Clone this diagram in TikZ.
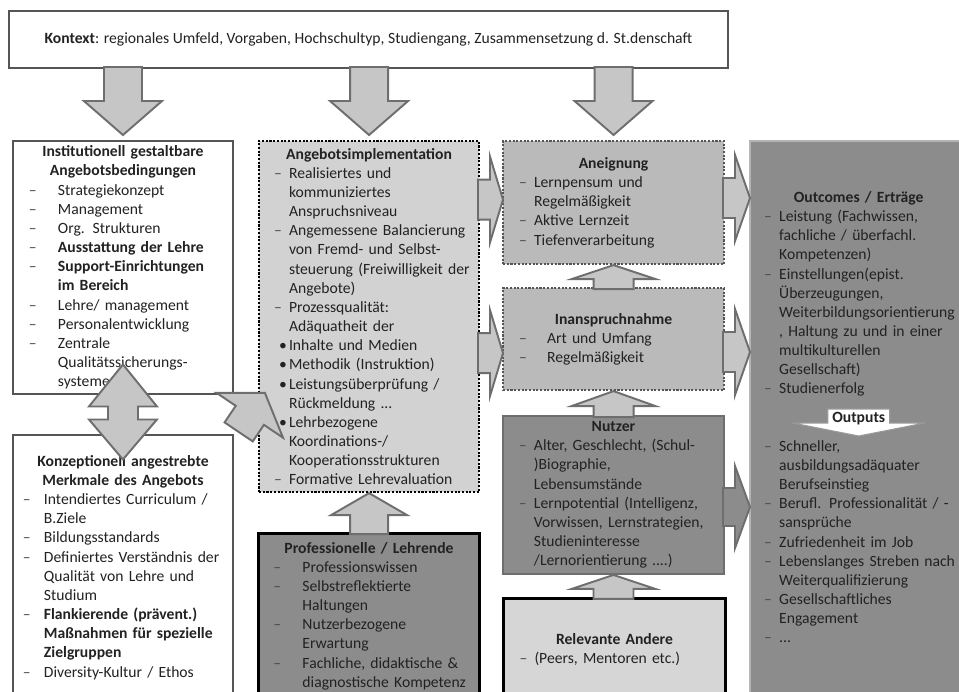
\documentclass[tikz,border=0pt]{standalone}
\usepackage{fontspec}
\setmainfont{Carlito}
\usetikzlibrary{calc}

\definecolor{frame}{HTML}{555555}
\definecolor{arrfill}{HTML}{C6C6C6}
\definecolor{arrline}{HTML}{6E6E6E}
\definecolor{lightbox}{HTML}{D2D2D2}
\definecolor{midbox}{HTML}{BABABA}
\definecolor{darkbox}{HTML}{8C8C8C}
\definecolor{relbox}{HTML}{D6D6D6}
\definecolor{outframe}{HTML}{B4B4B4}
\definecolor{txt}{HTML}{222222}
\definecolor{dashgray}{HTML}{4A4A4A}

\newlength\px \setlength\px{0.02cm}
\newlength\ind

\newcommand\hd[1]{\makebox[\hsize][c]{\bfseries #1}}
\newcommand\dsh[1]{\mbox{\makebox[\ind][l]{\textcolor{dashgray}{–}}#1}}
\newcommand\bul[1]{\mbox{\makebox[\ind][l]{\hspace{5\px}\textbullet}#1}}
\newcommand\cnt[1]{\mbox{\hspace*{\ind}#1}}

% Blockpfeil: [Optionen]{Spitze}{Winkel}{Laenge}{Kopflaenge}{Kopfbreite/2}{Schaftbreite/2}
\newcommand\blockarrow[7][]{%
  \begin{scope}[shift={(#2)},rotate=#3]
    \draw[blockarr,#1] (0,0) -- (-#5,#6) -- (-#5,#7) -- (-#4,#7) -- (-#4,-#7)
      -- (-#5,-#7) -- (-#5,-#6) -- cycle;
  \end{scope}}

\begin{document}
\begin{tikzpicture}[x=0.02cm,y=-0.02cm,
  box/.style={anchor=north west, align=left, inner ysep=0pt, text=txt,
    font=\fontsize{8.9}{10.9}\selectfont},
  ind/.style={execute at begin node={\setlength\parindent{0pt}\setlength\ind{#1\px}}},
  dotframe/.style={line width=1.2pt, dash pattern=on 1.2pt off 0.9pt},
  blockarr/.style={fill=arrfill, draw=arrline, line width=1.1pt, line join=miter}]

\useasboundingbox (0,0) rectangle (959,691);
\fill[white] (0,0) rectangle (959,691);
\clip (0,0) rectangle (959,691);

%% Kontext
\node[box, align=center, draw=frame, line width=1.1pt, minimum width=719*\px,
  minimum height=57*\px] (ctx) at (8,10)
  {\textbf{Kontext}: regionales Umfeld, Vorgaben, Hochschultyp, Studiengang, Zusammensetzung d. St.denschaft};

%% linke Spalte
\node[box, draw=frame, line width=1.1pt, minimum width=220*\px, minimum height=253*\px,
  inner xsep=16*\px, text width=188*\px, ind=29] (inst) at (12,140)
  {\hd{Institutionell gestaltbare}\\
   \hd{Angebotsbedingungen}\\
   \dsh{Strategiekonzept}\\
   \dsh{Management}\\
   \dsh{Org. Strukturen}\\
   \dsh{\textbf{Ausstattung der Lehre}}\\
   \dsh{\textbf{Support-Einrichtungen}}\\
   \cnt{\textbf{im Bereich}}\\
   \dsh{Lehre/ management}\\
   \dsh{Personalentwicklung}\\
   \dsh{Zentrale}\\
   \cnt{Qualitätssicherungs-}\\
   \cnt{systeme}};

\node[box, draw=frame, line width=1.1pt, minimum width=220*\px, minimum height=265*\px,
  inner xsep=10*\px, text width=200*\px, ind=21] (konz) at (12,434)
  {\hd{Konzeptionell angestrebte}\\
   \hd{Merkmale des Angebots}\\
   \dsh{Intendiertes Curriculum /}\\
   \cnt{B.Ziele}\\
   \dsh{Bildungsstandards}\\
   \dsh{Definiertes Verständnis der}\\
   \cnt{Qualität von Lehre und}\\
   \cnt{Studium}\\
   \dsh{\textbf{Flankierende (prävent.)}}\\
   \cnt{\textbf{Maßnahmen für spezielle}}\\
   \cnt{\textbf{Zielgruppen}}\\
   \dsh{Diversity-Kultur / Ethos}};

%% mittlere Spalte
\node[box, fill=lightbox, draw=black, dotframe, minimum width=220*\px, minimum height=351*\px,
  inner xsep=15*\px, text width=190*\px, ind=15] (impl) at (258,140)
  {\hd{Angebotsimplementation}\\
   \dsh{Realisiertes und}\\
   \cnt{kommuniziertes}\\
   \cnt{Anspruchsniveau}\\
   \dsh{Angemessene Balancierung}\\
   \cnt{von Fremd- und Selbst-}\\
   \cnt{steuerung (Freiwilligkeit der}\\
   \cnt{Angebote)}\\
   \dsh{Prozessqualität:}\\
   \cnt{Adäquatheit der}\\
   \bul{Inhalte und Medien}\\
   \bul{Methodik (Instruktion)}\\
   \bul{Leistungsüberprüfung /}\\
   \cnt{Rückmeldung ...}\\
   \bul{Lehrbezogene}\\
   \cnt{Koordinations-/}\\
   \cnt{Kooperationsstrukturen}\\
   \dsh{Formative Lehrevaluation}};

\node[box, fill=darkbox, draw=black, line width=1.7pt, minimum width=221*\px, minimum height=165*\px,
  inner xsep=15*\px, text width=191*\px, ind=29] (prof) at (257,532)
  {\hd{Professionelle / Lehrende}\\
   \dsh{Professionswissen}\\
   \dsh{Selbstreflektierte}\\
   \cnt{Haltungen}\\
   \dsh{Nutzerbezogene}\\
   \cnt{Erwartung}\\
   \dsh{Fachliche, didaktische \&}\\
   \cnt{diagnostische Kompetenz}};

%% rechte Spalte
\node[box, fill=midbox, draw=frame, dotframe, minimum width=221*\px, minimum height=123*\px,
  inner xsep=16*\px, text width=189*\px, ind=15] (aneig) at (502,140)
  {\hd{Aneignung}\\
   \dsh{Lernpensum und}\\
   \cnt{Regelmäßigkeit}\\
   \dsh{Aktive Lernzeit}\\
   \dsh{Tiefenverarbeitung}};

\node[box, fill=midbox, draw=frame, dotframe, minimum width=221*\px, minimum height=102*\px,
  inner xsep=16*\px, text width=189*\px, ind=28] (inan) at (502,287)
  {\hd{Inanspruchnahme}\\
   \dsh{Art und Umfang}\\
   \dsh{Regelmäßigkeit}};

\node[box, fill=darkbox, draw=arrline, line width=1.1pt, minimum width=221*\px, minimum height=158*\px,
  inner xsep=16*\px, text width=189*\px, ind=15] (nutzer) at (502,415)
  {\hd{Nutzer}\\
   \dsh{Alter, Geschlecht, (Schul-}\\
   \cnt{)Biographie,}\\
   \cnt{Lebensumstände}\\
   \dsh{Lernpotential (Intelligenz,}\\
   \cnt{Vorwissen, Lernstrategien,}\\
   \cnt{Studieninteresse}\\
   \cnt{/Lernorientierung ....)}};

\node[box, fill=relbox, draw=black, line width=1.7pt, minimum width=222*\px, minimum height=102*\px,
  inner xsep=16*\px, text width=190*\px, ind=15] (rel) at (502,597)
  {\hd{Relevante Andere}\\
   \dsh{(Peers, Mentoren etc.)}};

%% Outcomes
\node[box, fill=darkbox, draw=outframe, line width=1.4pt, minimum width=217*\px, minimum height=552*\px,
  inner xsep=14*\px, text width=189*\px, ind=15] (outc) at (749,140)
  {\hd{Outcomes / Erträge}\\
   \dsh{Leistung (Fachwissen,}\\
   \cnt{fachliche / überfachl.}\\
   \cnt{Kompetenzen)}\\
   \dsh{Einstellungen(epist.}\\
   \cnt{Überzeugungen,}\\
   \cnt{Weiterbildungsorientierung}\\
   \cnt{, Haltung zu und in einer}\\
   \cnt{multikulturellen}\\
   \cnt{Gesellschaft)}\\
   \dsh{Studienerfolg}\\
   \mbox{}\\
   \mbox{}\\
   \dsh{Schneller,}\\
   \cnt{ausbildungsadäquater}\\
   \cnt{Berufseinstieg}\\
   \dsh{Berufl. Professionalität / -}\\
   \cnt{sansprüche}\\
   \dsh{Zufriedenheit im Job}\\
   \dsh{Lebenslanges Streben nach}\\
   \cnt{Weiterqualifizierung}\\
   \dsh{Gesellschaftliches}\\
   \cnt{Engagement}\\
   \dsh{...}};

\begin{scope}[shift={($(outc.north)+(0,279)$)}]
  \draw[fill=white, draw=arrline!70, line width=0.6pt] (-31,-10) -- (31,-10) -- (31,4) -- (66,4)
    -- (0,17) -- (-66,4) -- (-31,4) -- cycle;
  \node[inner sep=0pt, text=txt, font=\fontsize{8.9}{10.9}\selectfont\bfseries] (outp) at (0,0) {Outputs};
\end{scope}

%% Pfeile
\blockarrow{$(inst.north)+(0,-5)$}{-90}{68}{34}{39}{19}
\blockarrow{$(impl.north)+(0,-5)$}{-90}{68}{34}{39}{19}
\blockarrow{$(aneig.north)+(0,-5)$}{-90}{68}{34}{39}{19}

\blockarrow{impl.south}{90}{41}{22}{38}{19}
\blockarrow{aneig.south}{90}{24}{14}{42}{20}
\blockarrow{inan.south}{90}{26}{15}{42}{20}
\blockarrow{nutzer.south}{90}{24}{14}{42}{20}

\blockarrow{$(aneig.west)+(1,-3)$}{0}{25}{13}{43}{20}
\blockarrow{$(inan.west)+(1,14)$}{0}{25}{13}{43}{20}

\blockarrow{$(outc.north west)+(1,58)$}{0}{27}{15}{43}{20}
\blockarrow{$(outc.north west)+(1,212)$}{0}{27}{15}{43}{20}
\blockarrow[fill=darkbox]{$(outc.north west)+(1,367)$}{0}{27}{15}{41}{19}

% schraeger Pfeil in die Angebotsimplementation
\blockarrow{$(inst.south east)+(31,-2)$}{56}{47}{27}{40}{17}

% Doppelpfeil links
\begin{scope}[shift={($(inst.south)!0.5!(konz.north)$)}]
  \draw[blockarr] (0,-50) -- (34,-8) -- (15,-8) -- (15,5) -- (34,5) -- (0,45)
    -- (-34,5) -- (-15,5) -- (-15,-8) -- (-34,-8) -- cycle;
\end{scope}

\end{tikzpicture}
\end{document}
